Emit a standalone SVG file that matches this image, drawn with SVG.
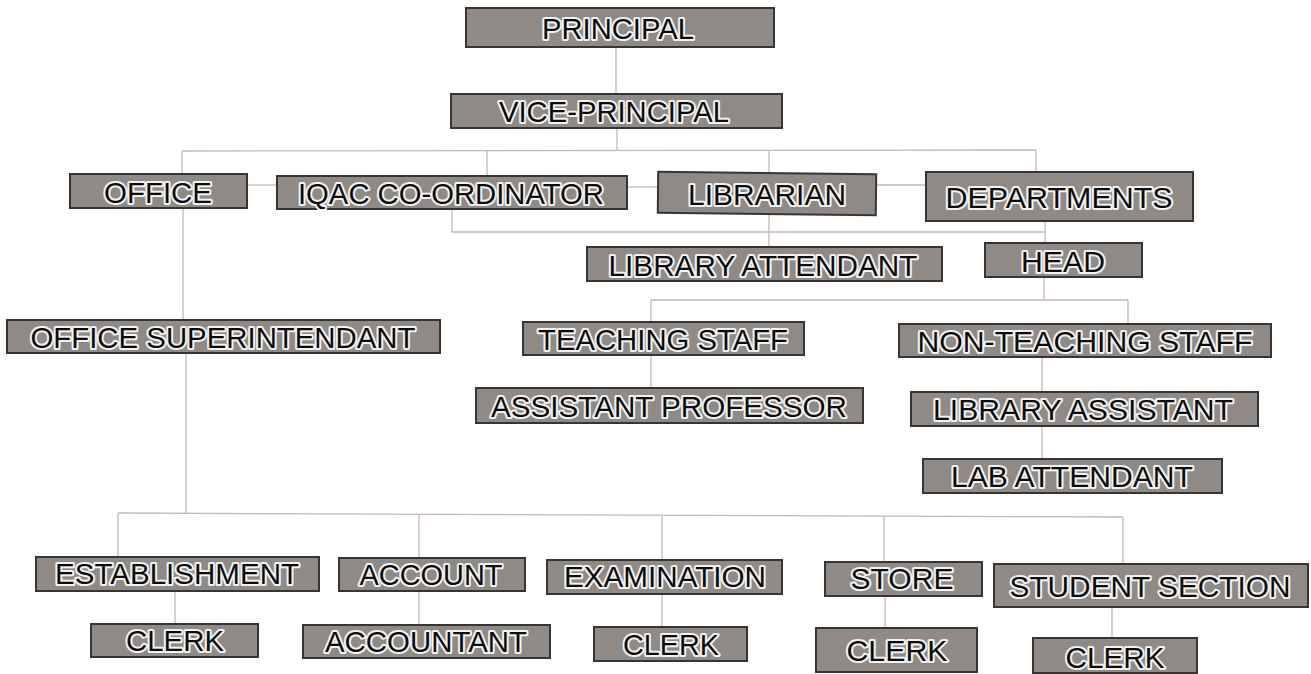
<svg xmlns="http://www.w3.org/2000/svg" width="1311" height="674" viewBox="0 0 1311 674">
<defs>
<style>
.bx{fill:#8f8a86;stroke:#383432;stroke-width:2}
.t{font-family:"Liberation Sans",Arial,sans-serif;font-size:29px;fill:#0c0c0c;stroke:#f2f2f2;stroke-width:4;stroke-linejoin:round;paint-order:stroke fill;text-anchor:middle}
.c{fill:none;stroke:#c9b6b8;stroke-width:1.3}
</style>
</defs>
<rect width="1311" height="674" fill="#ffffff"/>
<g id="connectors">
<path class="c" d="M616 47V94"/>
<path class="c" d="M617 128V151"/>
<path class="c" d="M182 151L1036 150"/>
<path class="c" d="M182 151V174"/>
<path class="c" d="M487 151V176"/>
<path class="c" d="M769 150V173"/>
<path class="c" d="M1036 150V172"/>
<path class="c" d="M247 185H277"/>
<path class="c" d="M627 187H658"/>
<path class="c" d="M876 185H926"/>
<path class="c" d="M183 208V320"/>
<path class="c" d="M452 209V232H1045"/>
<path class="c" d="M769 214V247"/>
<path class="c" d="M1045 222V243"/>
<path class="c" d="M1044 277V300"/>
<path class="c" d="M651 300H1128"/>
<path class="c" d="M651 300V322"/>
<path class="c" d="M1128 300V324"/>
<path class="c" d="M651 355V388"/>
<path class="c" d="M1042 357V392"/>
<path class="c" d="M1042 426V459"/>
<path class="c" d="M186 353V513"/>
<path class="c" d="M118 513L1123 517"/>
<path class="c" d="M118 513V557"/>
<path class="c" d="M419 514V558"/>
<path class="c" d="M662 515V560"/>
<path class="c" d="M884 516V562"/>
<path class="c" d="M1123 517V564"/>
<path class="c" d="M175 591V624"/>
<path class="c" d="M419 591V625"/>
<path class="c" d="M662 594V627"/>
<path class="c" d="M885 596V628"/>
<path class="c" d="M1112 607V638"/>
</g>
<g id="principal"><rect class="bx" x="466" y="8" width="308" height="39"/><text class="t" x="618" y="39" textLength="152" lengthAdjust="spacingAndGlyphs">PRINCIPAL</text></g>
<g id="vice-principal"><rect class="bx" x="451" y="94" width="331" height="34"/><text class="t" x="614" y="122" font-size="30" textLength="230" lengthAdjust="spacingAndGlyphs">VICE-PRINCIPAL</text></g>
<g id="office"><rect class="bx" x="70" y="174" width="177" height="34"/><text class="t" x="158" y="203" textLength="108" lengthAdjust="spacingAndGlyphs">OFFICE</text></g>
<g id="iqac"><rect class="bx" x="277" y="176" width="350" height="33"/><text class="t" x="451" y="204" textLength="306" lengthAdjust="spacingAndGlyphs">IQAC CO-ORDINATOR</text></g>
<g id="librarian"><rect class="bx" x="658" y="173" width="218" height="41" transform="rotate(0.6 767 193)"/><text class="t" x="767" y="205" font-size="30" textLength="158" lengthAdjust="spacingAndGlyphs">LIBRARIAN</text></g>
<g id="departments"><rect class="bx" x="926" y="172" width="267" height="49"/><text class="t" x="1059" y="208" font-size="30" textLength="227" lengthAdjust="spacingAndGlyphs">DEPARTMENTS</text></g>
<g id="library-attendant"><rect class="bx" x="587" y="247" width="355" height="34"/><text class="t" x="763" y="276" font-size="30" textLength="309" lengthAdjust="spacingAndGlyphs">LIBRARY ATTENDANT</text></g>
<g id="head"><rect class="bx" x="985" y="243" width="157" height="34"/><text class="t" x="1063" y="272" font-size="30" textLength="84" lengthAdjust="spacingAndGlyphs">HEAD</text></g>
<g id="office-superintendant"><rect class="bx" x="7" y="320" width="433" height="33"/><text class="t" x="223" y="348" textLength="385" lengthAdjust="spacingAndGlyphs">OFFICE SUPERINTENDANT</text></g>
<g id="teaching-staff"><rect class="bx" x="523" y="322" width="281" height="33"/><text class="t" x="663" y="350" font-size="30" textLength="250" lengthAdjust="spacingAndGlyphs">TEACHING STAFF</text></g>
<g id="non-teaching-staff"><rect class="bx" x="899" y="324" width="372" height="33"/><text class="t" x="1085" y="352" font-size="30" textLength="335" lengthAdjust="spacingAndGlyphs">NON-TEACHING STAFF</text></g>
<g id="assistant-professor"><rect class="bx" x="476" y="388" width="387" height="35"/><text class="t" x="669" y="417" font-size="30" textLength="356" lengthAdjust="spacingAndGlyphs">ASSISTANT PROFESSOR</text></g>
<g id="library-assistant"><rect class="bx" x="911" y="392" width="347" height="34"/><text class="t" x="1083" y="420" font-size="30" textLength="300" lengthAdjust="spacingAndGlyphs">LIBRARY ASSISTANT</text></g>
<g id="lab-attendant"><rect class="bx" x="923" y="459" width="299" height="34"/><text class="t" x="1072" y="487" font-size="30" textLength="242" lengthAdjust="spacingAndGlyphs">LAB ATTENDANT</text></g>
<g id="establishment"><rect class="bx" x="36" y="557" width="283" height="34"/><text class="t" x="177" y="584" font-size="28" textLength="244" lengthAdjust="spacingAndGlyphs">ESTABLISHMENT</text></g>
<g id="account"><rect class="bx" x="339" y="558" width="186" height="33"/><text class="t" x="431" y="585" font-size="28" textLength="143" lengthAdjust="spacingAndGlyphs">ACCOUNT</text></g>
<g id="examination"><rect class="bx" x="547" y="560" width="235" height="34"/><text class="t" x="665" y="587" font-size="28" textLength="202" lengthAdjust="spacingAndGlyphs">EXAMINATION</text></g>
<g id="store"><rect class="bx" x="825" y="562" width="157" height="34"/><text class="t" x="902" y="589" font-size="28" textLength="103" lengthAdjust="spacingAndGlyphs">STORE</text></g>
<g id="student-section"><rect class="bx" x="994" y="564" width="314" height="43"/><text class="t" x="1150" y="597" font-size="30" textLength="281" lengthAdjust="spacingAndGlyphs">STUDENT SECTION</text></g>
<g id="clerk-establishment"><rect class="bx" x="91" y="624" width="167" height="33"/><text class="t" x="175" y="651" font-size="28" textLength="98" lengthAdjust="spacingAndGlyphs">CLERK</text></g>
<g id="accountant"><rect class="bx" x="303" y="625" width="247" height="33"/><text class="t" x="426" y="652" font-size="29" textLength="202" lengthAdjust="spacingAndGlyphs">ACCOUNTANT</text></g>
<g id="clerk-examination"><rect class="bx" x="594" y="627" width="153" height="34"/><text class="t" x="671" y="655" font-size="29" textLength="96" lengthAdjust="spacingAndGlyphs">CLERK</text></g>
<g id="clerk-store"><rect class="bx" x="816" y="628" width="161" height="44"/><text class="t" x="897" y="661" font-size="31" textLength="101" lengthAdjust="spacingAndGlyphs">CLERK</text></g>
<g id="clerk-student"><rect class="bx" x="1033" y="638" width="164" height="35"/><text class="t" x="1115" y="668" font-size="29" textLength="99" lengthAdjust="spacingAndGlyphs">CLERK</text></g>
</svg>
